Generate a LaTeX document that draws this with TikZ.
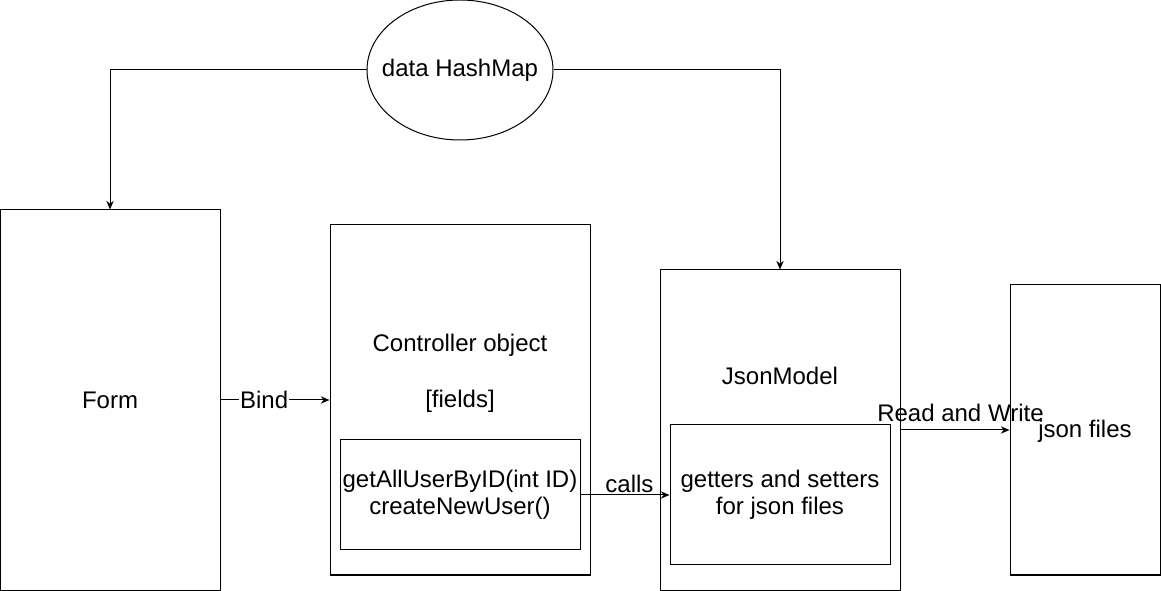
\documentclass[tikz,border=0pt]{standalone}
\usepackage{fontspec}
\setmainfont{Liberation Sans}
\usepackage{tikz}
\usetikzlibrary{arrows.meta,shapes.geometric}

\tikzset{
  box/.style={draw,line width=0.75pt,rectangle,inner sep=0pt},
  linkarrow/.style={line width=0.75pt,-{Stealth[length=6.5pt,width=5.5pt]}},
  linktext/.style={font=\fontsize{18}{20.5}\selectfont,inner sep=1pt}
}

\begin{document}
\begin{tikzpicture}[x=0.75pt,y=-0.75pt,font=\fontsize{18}{20.5}\selectfont]
% Fix the page size
\useasboundingbox (0,0) rectangle (1161,591);
% Draw the hash map
\node[draw,line width=0.75pt,ellipse,inner sep=0pt,minimum width=139.5pt,minimum height=105pt] (hashmap) at (460,70) {};
\node at (460,70) {data HashMap};
% Draw the boxes
\node[box,minimum width=165pt,minimum height=285pt] (form) at (110,400) {Form};
\node[box,minimum width=195pt,minimum height=262.5pt] (controller) at (460,400) {};
\node at (460,345) {Controller object};
\node at (460,401) {[fields]};
\node[box,minimum width=180pt,minimum height=82.5pt,align=center] (methods) at (460,495) {getAllUserByID(int ID)\\createNewUser()};
\node[box,minimum width=180pt,minimum height=240pt] (jsonmodel) at (780,430) {};
\node at (780,376) {JsonModel};
\node[box,minimum width=165pt,minimum height=105pt,align=center] (accessors) at (780,495) {getters and setters\\for json files};
\node[box,minimum width=112.5pt,minimum height=217.5pt] (jsonfiles) at (1085,430) {};
\node at (1085,431) {json files};
% Draw the connectors
\draw[linkarrow] (hashmap.west) -| (form.north);
\draw[linkarrow] (hashmap.east) -| (jsonmodel.north);
\draw[linkarrow] (form.east) -- node[linktext,pos=0.4,fill=white] {Bind} (controller.west);
\draw[linkarrow] (methods.east) -- node[linktext,pos=0.55,above] {calls} (accessors.west);
\draw[linkarrow] (jsonmodel.east) -- node[linktext,pos=0.55,above=5pt] {Read and Write} (jsonfiles.west);
\end{tikzpicture}
\end{document}
